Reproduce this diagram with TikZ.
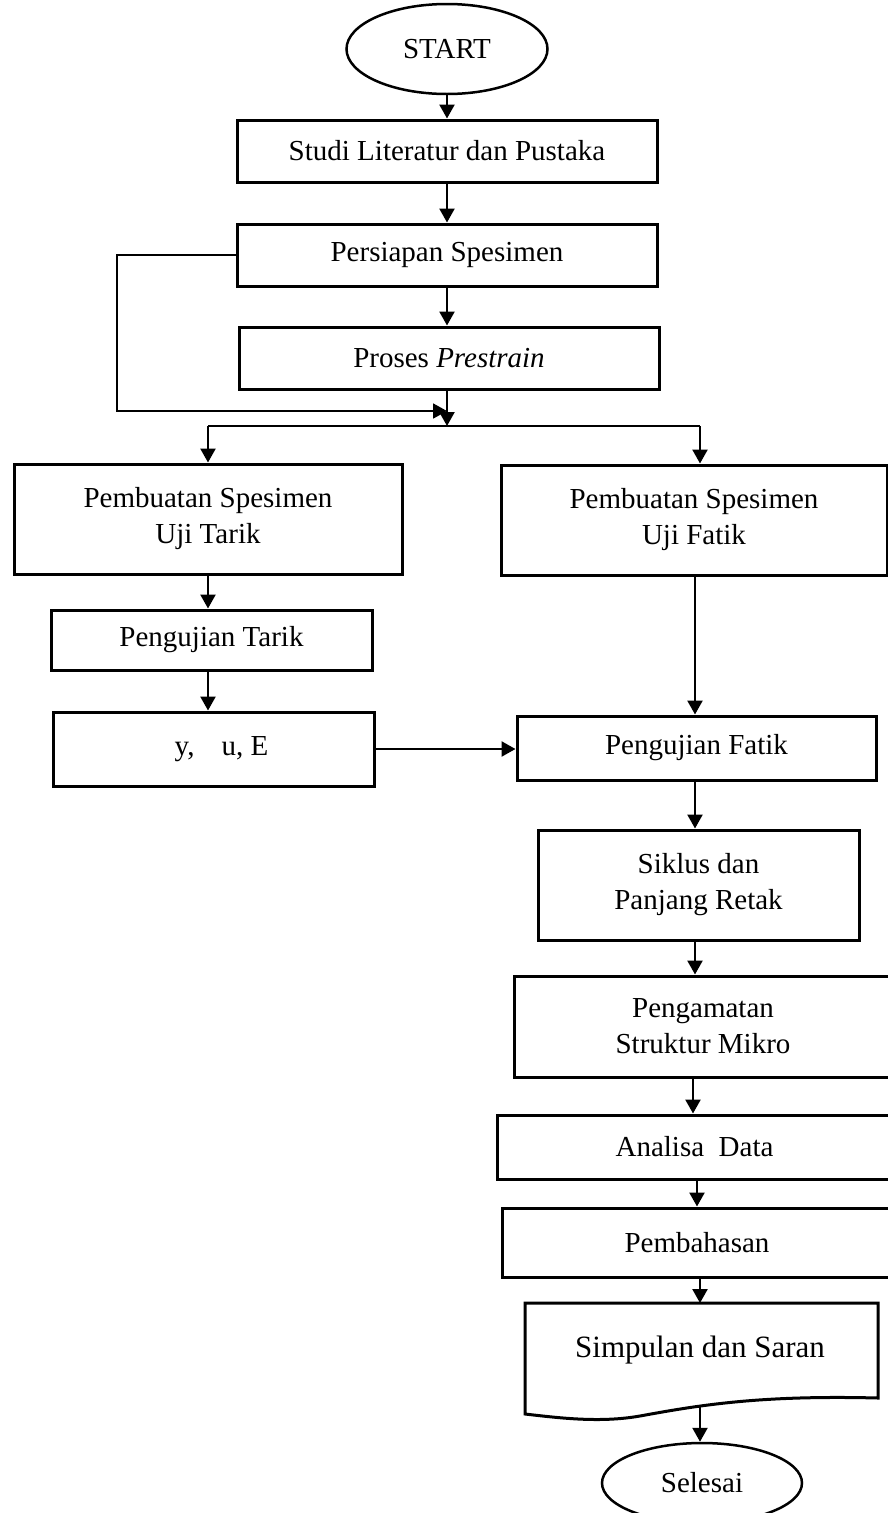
\documentclass[tikz,border=0pt]{standalone}
\usepackage{fontspec}
\setmainfont{Liberation Serif}
\usetikzlibrary{shapes.geometric,arrows.meta}
\newcommand{\flowfont}{\fontsize{29}{36}\selectfont}
\tikzset{
  box/.style={draw, line width=3pt, rectangle, inner sep=0pt, align=center, font=\flowfont},
  term/.style={draw, line width=2.5pt, ellipse, inner sep=0pt, align=center, font=\flowfont},
  arrtip/.style={-{Triangle[length=14pt,width=15pt]}},
  arr/.style={line width=2.4pt, arrtip},
  thinline/.style={line width=1.8pt},
  hair/.style={line width=1.2pt}
}
\begin{document}
\begin{tikzpicture}[x=1pt,y=-1pt]
\useasboundingbox (0,0) rectangle (888,1513);

% nodes
\node[term, minimum width=201, minimum height=90] (start) at (447,49) {START};
\node[box, minimum width=420, minimum height=62] (studi) at (447,151) {Studi Literatur dan Pustaka};
\node[box, minimum width=420, minimum height=62] (persiapan) at (447,255) {Persiapan Spesimen};
\node[box, minimum width=420, minimum height=62] (prestrain) at (449,358) {Proses \textit{Prestrain}};
\node[box, minimum width=388, minimum height=110] (buatTarik) at (208,519) {Pembuatan Spesimen\\Uji Tarik};
\node[box, minimum width=386, minimum height=110] (buatFatik) at (694,520) {Pembuatan Spesimen\\Uji Fatik};
\node[box, minimum width=321, minimum height=60] (ujiTarik) at (211.5,640) {Pengujian Tarik};
\node[box, minimum width=321, minimum height=74] (hasil) at (213.5,749) {\raisebox{4pt}{\hspace*{16pt}y,\hspace{27pt}u, E}};
\node[box, minimum width=359, minimum height=64] (ujiFatik) at (696.5,748) {Pengujian Fatik};
\node[box, minimum width=321, minimum height=110] (siklus) at (698.5,885) {Siklus dan\\Panjang Retak};
\node[box, minimum width=378, minimum height=101] (amat) at (703,1026.5) {Pengamatan\\Struktur Mikro};
\node[box, minimum width=395, minimum height=64] (analisa) at (694.5,1147) {Analisa\ \ Data};
\node[box, minimum width=390, minimum height=69] (bahas) at (697,1242.5) {Pembahasan};

% document shape
\draw[line width=3pt, line join=miter] (525,1303) -- (878,1303) -- (878,1398)
  .. controls (760,1395) and (700,1405) .. (640,1416)
  .. controls (600,1423) and (560,1418) .. (525,1414) -- cycle;
\node[font=\fontsize{31}{36}\selectfont, inner sep=0pt] (simpulan) at (700,1350) {Simpulan dan Saran};
\coordinate (simpT) at (700,1303);
\coordinate (simpB) at (700,1407);
\node[term, minimum width=200, minimum height=80] (selesai) at (702,1483) {Selesai};

% helper coordinates
\coordinate (loopL) at (117,0);
\coordinate (branch) at (0,426);
\coordinate (joinY) at (0,411);
\coordinate (colL) at (208,0);
\coordinate (colR) at (700,0);
\coordinate (colF) at (695,0);
\coordinate (colA) at (693,0);
\coordinate (colB) at (697,0);

% connectors
\draw[arr] (start.south -| studi.north) -- (studi.north);
\draw[arr] (studi.south) -- (persiapan.north);
\draw[arr] (persiapan.south) -- (persiapan.south |- prestrain.north);
\draw[thinline, arrtip] (persiapan.west) -- (persiapan.west -| loopL) -- (loopL |- joinY) -- (joinY -| persiapan.south);
\draw[arr] (prestrain.south -| persiapan.south) -- (branch -| persiapan.south);
\draw[hair] (branch -| colL) -- (branch -| colR);
\draw[arr] (branch -| colL) -- (colL |- buatTarik.north);
\draw[arr] (branch -| colR) -- (colR |- buatFatik.north);
\draw[arr] (buatTarik.south -| colL) -- (colL |- ujiTarik.north);
\draw[arr] (ujiTarik.south -| colL) -- (colL |- hasil.north);
\draw[arr] (hasil.east) -- (hasil.east -| ujiFatik.west);
\draw[arr] (buatFatik.south -| colF) -- (colF |- ujiFatik.north);
\draw[arr] (ujiFatik.south -| colF) -- (colF |- siklus.north);
\draw[arr] (siklus.south -| colF) -- (colF |- amat.north);
\draw[arr] (amat.south -| colA) -- (colA |- analisa.north);
\draw[arr] (analisa.south -| colB) -- (colB |- bahas.north);
\draw[arr] (bahas.south -| colR) -- (simpT);
\draw[arr] (simpB) -- (simpB |- selesai.north);
\end{tikzpicture}
\end{document}
